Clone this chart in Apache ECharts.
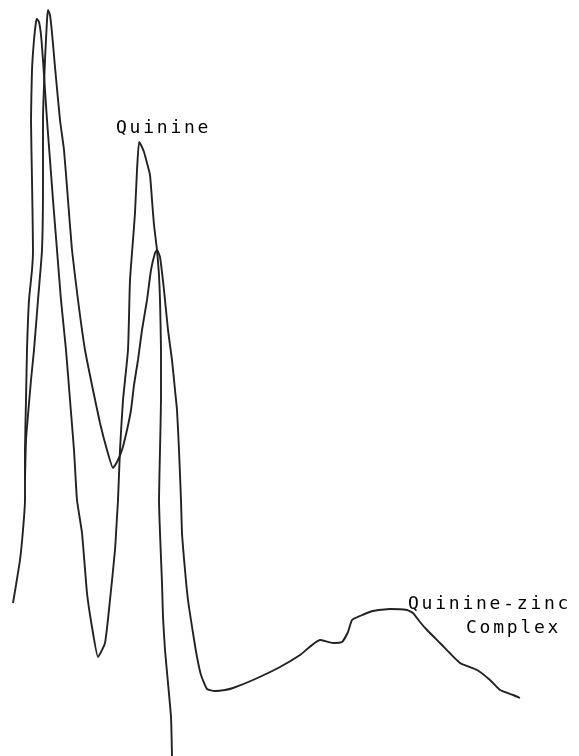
<!DOCTYPE html>
<html>
<head>
<meta charset="utf-8">
<script src="https://cdn.jsdelivr.net/npm/echarts@6/dist/echarts.min.js"></script>
<style>
html,body{margin:0;padding:0;background:#fff;}
#c{width:579px;height:756px;}
</style>
</head>
<body>
<div id="c"></div>
<script>
// Trace position (x) and recorder deflection (y, measured upward from chart bottom)
var quinineX = [13,16,20,23,25,25,26,27,29,32,33,32,31,32,34,36,37,39,41,43,45,47,50,53,57,61,66,70,74,77,82,87,92,98,105,110,115,117,118,120,123,128,130,133,135,137,139,141,144,147,150,152,154,157,159,160,161,161,160,159,160,162,163,165,168,171,172];
var quinineY = [153,171,196,226,256,306,356,406,456,486,506,576,636,686,716,734,737,734,721,696,666,636,596,556,506,456,406,356,306,256,223,163,129,99,113,156,206,239,256,306,356,406,476,516,543,586,614,611,604,593,581,556,531,506,481,456,406,356,306,256,223,173,139,106,73,39,0];

var complexX = [25,26,28,31,34,38,42,43,43,45,47,48,50,52,55,60,64,68,72,78,85,93,100,107,113,117,122,127,131,134,138,142,147,151,155,157,160,164,168,172,175,177,179,181,182,185,188,193,197,201,207,215,225,233,253,280,300,320,333,342,348,352,360,373,390,407,413,420,427,440,460,477,490,500,513,520];
var complexY = [276,316,341,376,406,456,506,576,636,696,736,746,741,723,689,636,606,556,506,456,406,366,333,306,288,294,306,326,346,371,396,426,456,486,503,506,499,466,426,396,366,346,306,256,223,186,156,123,99,81,67,65,66,68,76,89,101,116,113,114,124,136,140,145,147,146,143,134,126,113,93,86,76,66,61,58];

function toPairs(xs, ys){ return xs.map(function(x,i){ return [x, ys[i]]; }); }

function spaced(txt){
  return txt.split('').map(function(ch){ return '{c|' + (ch === ' ' ? '\u00a0' : ch) + '}'; }).join('');
}
var labelRich = { c: { width: 13.6, align: 'center', fontFamily: 'DejaVu Sans Mono', fontSize: 18, color: '#444444' } };

var chart = echarts.init(document.getElementById('c'), null, {renderer:'canvas'});
chart.setOption({
  animation: false,
  backgroundColor: '#ffffff',
  grid: { left: 0, right: 0, top: 0, bottom: 0 },
  xAxis: { type: 'value', min: 0, max: 579, show: false },
  yAxis: { type: 'value', min: 0, max: 756, show: false },
  series: [
    { name: 'Quinine', type: 'line', data: toPairs(quinineX, quinineY), showSymbol: false, smooth: 0.15,
      lineStyle: { color: '#222222', width: 1.9 } },
    { name: 'Quinine-zinc Complex', type: 'line', data: toPairs(complexX, complexY), showSymbol: false, smooth: 0.15,
      lineStyle: { color: '#222222', width: 1.9 } }
  ],
  graphic: [
    { type: 'text', left: 116, top: 119, style: { text: spaced('Quinine'), rich: labelRich } },
    { type: 'text', left: 408, top: 595, style: { text: spaced('Quinine-zinc'), rich: labelRich } },
    { type: 'text', left: 466, top: 619, style: { text: spaced('Complex'), rich: labelRich } }
  ]
});
</script>
</body>
</html>
